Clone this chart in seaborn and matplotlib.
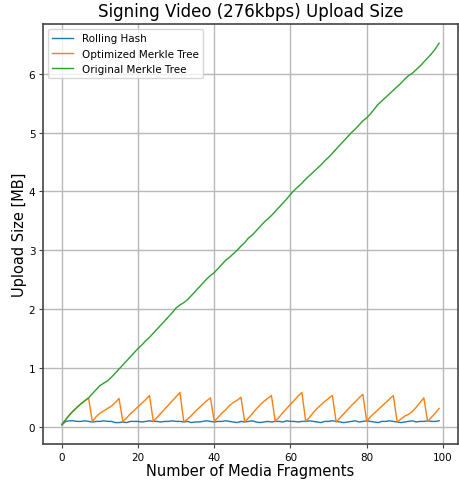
import numpy as np
import pandas as pd
import matplotlib
matplotlib.use("Agg")
import matplotlib.pyplot as plt
import seaborn as sns

fragments = list(range(100))

rolling_hash = [
    0.03, 0.09, 0.10, 0.10, 0.09, 0.09, 0.10, 0.09, 0.08, 0.09,
    0.09, 0.10, 0.09, 0.09, 0.07, 0.07, 0.08, 0.07, 0.09, 0.09,
    0.09, 0.08, 0.09, 0.10, 0.09, 0.09, 0.08, 0.09, 0.09, 0.10,
    0.09, 0.09, 0.08, 0.09, 0.07, 0.08, 0.08, 0.09, 0.10, 0.09,
    0.08, 0.09, 0.09, 0.10, 0.09, 0.08, 0.07, 0.09, 0.08, 0.09,
    0.10, 0.08, 0.07, 0.08, 0.09, 0.08, 0.09, 0.09, 0.08, 0.10,
    0.09, 0.09, 0.08, 0.09, 0.09, 0.10, 0.09, 0.08, 0.07, 0.09,
    0.09, 0.10, 0.09, 0.08, 0.07, 0.08, 0.09, 0.10, 0.08, 0.09,
    0.10, 0.09, 0.08, 0.07, 0.09, 0.09, 0.10, 0.09, 0.08, 0.07,
    0.08, 0.09, 0.10, 0.08, 0.09, 0.09, 0.10, 0.09, 0.09, 0.10,
]

optimized_merkle = [
    0.04, 0.12, 0.20, 0.27, 0.33, 0.39, 0.44, 0.49,
    0.09, 0.17, 0.23, 0.27, 0.31, 0.35, 0.41, 0.48,
    0.09, 0.15, 0.22, 0.28, 0.34, 0.40, 0.46, 0.53,
    0.09, 0.16, 0.23, 0.30, 0.37, 0.44, 0.51, 0.58,
    0.08, 0.13, 0.19, 0.26, 0.32, 0.38, 0.44, 0.49,
    0.09, 0.16, 0.23, 0.29, 0.36, 0.41, 0.45, 0.50,
    0.08, 0.15, 0.22, 0.30, 0.37, 0.43, 0.48, 0.53,
    0.09, 0.16, 0.24, 0.31, 0.38, 0.45, 0.52, 0.58,
    0.09, 0.16, 0.24, 0.31, 0.37, 0.43, 0.48, 0.53,
    0.08, 0.15, 0.22, 0.29, 0.36, 0.42, 0.49, 0.55,
    0.09, 0.17, 0.23, 0.29, 0.35, 0.41, 0.47, 0.53,
    0.08, 0.13, 0.18, 0.21, 0.26, 0.33, 0.41, 0.49,
    0.09, 0.16, 0.23, 0.31,
]

original_merkle = [
    0.04, 0.12, 0.20, 0.27, 0.33, 0.39, 0.44, 0.49, 0.56, 0.63,
    0.70, 0.74, 0.78, 0.84, 0.91, 0.98, 1.05, 1.12, 1.19, 1.26,
    1.33, 1.39, 1.46, 1.52, 1.59, 1.66, 1.73, 1.80, 1.87, 1.94,
    2.02, 2.07, 2.11, 2.16, 2.23, 2.30, 2.37, 2.44, 2.51, 2.57,
    2.62, 2.69, 2.76, 2.83, 2.88, 2.94, 3.00, 3.07, 3.13, 3.21,
    3.26, 3.33, 3.40, 3.47, 3.53, 3.59, 3.66, 3.73, 3.80, 3.87,
    3.95, 4.02, 4.08, 4.14, 4.21, 4.27, 4.33, 4.39, 4.45, 4.52,
    4.58, 4.65, 4.72, 4.79, 4.86, 4.93, 5.00, 5.06, 5.13, 5.20,
    5.25, 5.32, 5.40, 5.48, 5.54, 5.60, 5.66, 5.72, 5.78, 5.84,
    5.91, 5.97, 6.01, 6.07, 6.13, 6.20, 6.27, 6.34, 6.42, 6.52,
]

series_names = ["Rolling Hash", "Optimized Merkle Tree", "Original Merkle Tree"]

df = pd.concat([
    pd.DataFrame({"fragments": fragments, "size": vals, "method": name})
    for name, vals in zip(series_names, [rolling_hash, optimized_merkle, original_merkle])
])

fig = plt.figure(figsize=(4.6, 4.81), dpi=100)
ax = fig.add_axes([0.0935, 0.0748, 0.902, 0.873])

sns.lineplot(data=df, x="fragments", y="size", hue="method", hue_order=series_names,
             palette=["#1f77b4", "#ff7f0e", "#2ca02c"], linewidth=1.0, ax=ax)

ax.set_title("Signing Video (276kbps) Upload Size", fontsize=12)
ax.set_xlabel("Number of Media Fragments", fontsize=10.5, labelpad=1)
ax.set_ylabel("Upload Size [MB]", fontsize=10.5, labelpad=1)
ax.tick_params(labelsize=7.5, length=3, pad=2.5, color="#444444")
for s in ax.spines.values():
    s.set_color("#444444")
    s.set_linewidth(1.2)
ax.grid(True, color="#b8b8b8", linewidth=1.0)
ax.legend(loc="upper left", fontsize=7.5, title=None)

fig.savefig("out.png", dpi=100)
